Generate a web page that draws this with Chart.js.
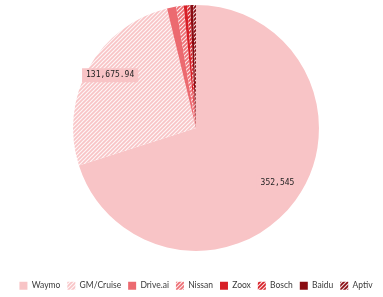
<!DOCTYPE html>
<html lang="en">
<head>
    <meta charset="UTF-8">
    <title>Autonomous miles</title>
    <script src="https://cdn.jsdelivr.net/npm/chart.js"></script>
    <style>
        body { margin: 0; background: #fff; }
        #wrap { width: 383px; height: 297px; }
    </style>
</head>
<body>
    <div id="wrap"><canvas id="milesChart" width="383" height="297"></canvas></div>
    <script>
        const companies = ['Waymo', 'GM/Cruise', 'Drive.ai', 'Nissan', 'Zoox', 'Bosch', 'Baidu', 'Aptiv'];
        const miles = [352545, 131675.94, 6015, 5007, 2244, 2000, 1971, 1811];
        const baseColors = ['#f8c4c6', '#f8c4c6', '#ec6a70', '#ee6e74', '#d71f27', '#d71f27', '#8a0c12', '#8a0c12'];
        const hatched = [false, true, false, true, false, true, false, true];
        const labelled = [true, true, false, false, false, false, false, false];

        function hatch(color) {
            const c = document.createElement('canvas');
            c.width = 4;
            c.height = 4;
            const g = c.getContext('2d');
            g.fillStyle = color;
            g.fillRect(0, 0, 4, 4);
            g.strokeStyle = 'rgba(255,255,255,0.85)';
            g.lineWidth = 1.2;
            g.beginPath();
            g.moveTo(-1, 1); g.lineTo(1, -1);
            g.moveTo(-1, 5); g.lineTo(5, -1);
            g.moveTo(3, 5); g.lineTo(5, 3);
            g.stroke();
            return g.createPattern(c, 'repeat');
        }

        const fills = baseColors.map((col, i) => hatched[i] ? hatch(col) : col);

        // value labels for the two big slices
        const sliceLabels = {
            id: 'sliceLabels',
            afterDatasetsDraw(chart) {
                const ctx = chart.ctx;
                const meta = chart.getDatasetMeta(0);
                ctx.save();
                ctx.font = '8px "DejaVu Sans Mono", monospace';
                ctx.textAlign = 'center';
                ctx.textBaseline = 'middle';
                meta.data.forEach((arc, i) => {
                    if (!labelled[i]) return;
                    const mid = (arc.startAngle + arc.endAngle) / 2;
                    const r = arc.outerRadius * 0.81;
                    const x = arc.x + Math.cos(mid) * r + 1;
                    const y = arc.y + Math.sin(mid) * r - 4;
                    const txt = miles[i].toLocaleString('en-US', { maximumFractionDigits: 2 });
                    const w = ctx.measureText(txt).width;
                    ctx.fillStyle = baseColors[0];
                    ctx.fillRect(x - w / 2 - 4, y - 7, w + 8, 14);
                    ctx.fillStyle = '#222';
                    ctx.fillText(txt, x, y);
                });
                ctx.restore();
            }
        };

        new Chart(document.getElementById('milesChart'), {
            type: 'pie',
            data: {
                labels: companies,
                datasets: [{
                    data: miles,
                    backgroundColor: fills,
                    borderWidth: 0
                }]
            },
            options: {
                responsive: false,
                animation: false,
                layout: { padding: { top: 5, left: 9, right: 0, bottom: -3 } },
                plugins: {
                    tooltip: { enabled: false },
                    legend: {
                        position: 'bottom',
                        title: { display: true, text: ' ', padding: 7, font: { size: 8 } },
                        labels: {
                            boxWidth: 8,
                            boxHeight: 8,
                            padding: 7,
                            color: '#3a3a3a',
                            font: { family: 'Lato', size: 8.5 }
                        }
                    }
                }
            },
            plugins: [sliceLabels]
        });
    </script>
</body>
</html>
